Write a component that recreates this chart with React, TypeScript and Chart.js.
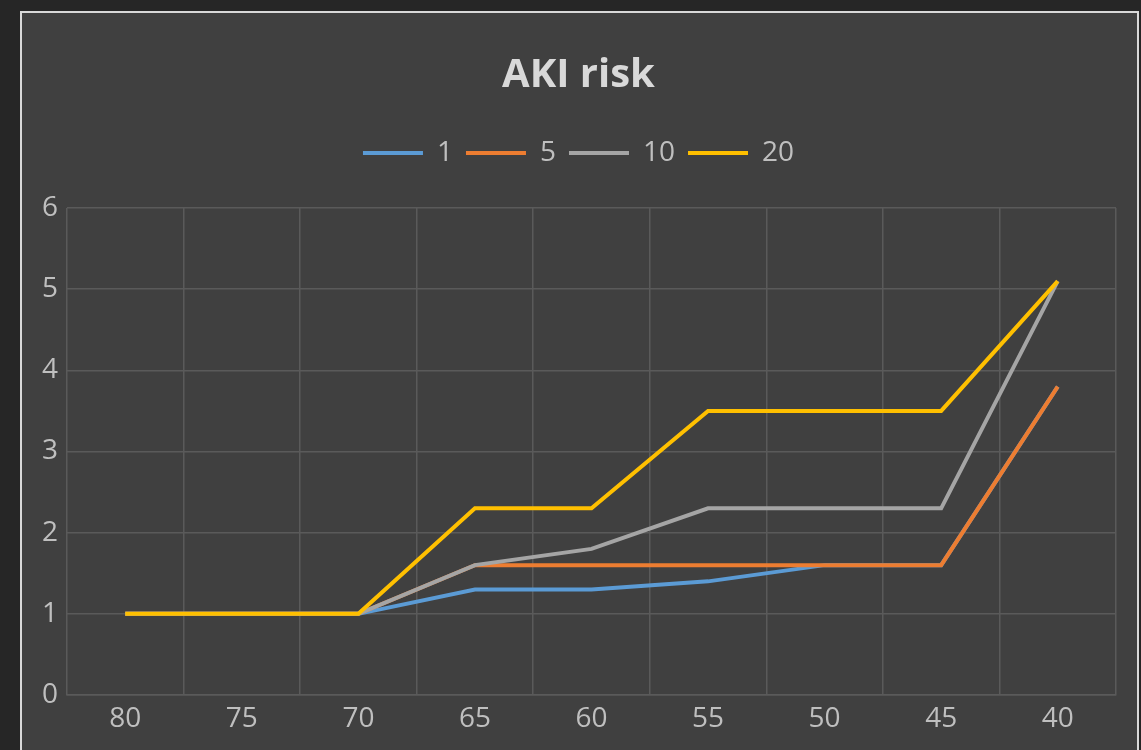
import React, { useEffect, useRef } from "react";
import { Chart, registerables } from "chart.js";

Chart.register(...registerables);

const CATEGORIES = ["80", "75", "70", "65", "60", "55", "50", "45", "40"];
const SERIES_NAMES = ["1", "5", "10", "20"];
const SERIES_1 = [1, 1, 1, 1.3, 1.3, 1.4, 1.6, 1.6, 3.8];
const SERIES_5 = [1, 1, 1, 1.6, 1.6, 1.6, 1.6, 1.6, 3.8];
const SERIES_10 = [1, 1, 1, 1.6, 1.8, 2.3, 2.3, 2.3, 5.1];
const SERIES_20 = [1, 1, 1, 2.3, 2.3, 3.5, 3.5, 3.5, 5.1];
const COLORS = ["#5B9BD5", "#ED7D31", "#A5A5A5", "#FFC000"];
const Y_TICKS = [0, 1, 2, 3, 4, 5, 6];

const FONT = "'Open Sans', 'Noto Sans', sans-serif";

export default function App() {
  const ref = useRef<HTMLCanvasElement | null>(null);

  useEffect(() => {
    if (!ref.current) return;
    const seriesData = [SERIES_1, SERIES_5, SERIES_10, SERIES_20];
    const legendGap = {
      id: "legendGap",
      beforeLayout(chart: any) {
        const lg = chart.legend;
        if (lg && !lg.__patched) {
          const orig = lg.fit.bind(lg);
          lg.fit = function () {
            orig();
            this.height += 31;
          };
          lg.__patched = true;
        }
      },
    };
    const chart = new Chart(ref.current, {
      type: "line",
      data: {
        labels: CATEGORIES,
        datasets: seriesData.map((d, i) => ({
          label: SERIES_NAMES[i],
          data: d,
          borderColor: COLORS[i],
          backgroundColor: COLORS[i],
          borderWidth: 4,
          pointRadius: 0,
          tension: 0,
          fill: false,
          order: seriesData.length - i,
        })),
      },
      options: {
        responsive: false,
        animation: false,
        devicePixelRatio: 1,
        layout: { padding: { left: 41, right: 25, top: 0, bottom: 0 } },
        plugins: {
          tooltip: { enabled: false },
          title: {
            display: true,
            text: "AKI risk",
            color: "#D9D9D9",
            font: { family: FONT, size: 40, weight: "bold", lineHeight: 1.2 },
            padding: { top: 52, bottom: 26 },
          },
          legend: {
            display: true,
            position: "top",
            labels: {
              color: "#BFBFBF",
              font: { family: FONT, size: 28 },
              boxWidth: 60,
              boxHeight: 4,
              padding: 13,
              generateLabels(chart: any) {
                const items = Chart.defaults.plugins.legend.labels.generateLabels(chart);
                items.sort((a: any, b: any) => a.datasetIndex - b.datasetIndex);
                return items.map((it: any) => ({
                  ...it,
                  lineWidth: 0,
                  fillStyle: COLORS[it.datasetIndex],
                  strokeStyle: COLORS[it.datasetIndex],
                }));
              },
            },
          },
        },
        scales: {
          x: {
            offset: true,
            grid: { color: "#5A5A5A", lineWidth: 1.5, offset: true, drawTicks: false },
            border: { color: "#5A5A5A", width: 1.5 },
            ticks: { color: "#BFBFBF", font: { family: FONT, size: 28 }, padding: 7, maxRotation: 0 },
            afterFit(scale: any) {
              scale.height = 55;
            },
          },
          y: {
            min: 0,
            max: 6,
            afterBuildTicks(scale: any) {
              scale.ticks = Y_TICKS.map((v) => ({ value: v }));
            },
            grid: { color: "#5A5A5A", lineWidth: 1.5, drawTicks: false },
            border: { display: false },
            ticks: { color: "#BFBFBF", font: { family: FONT, size: 28 }, padding: 9 },
            afterFit(scale: any) {
              scale.width = 26;
            },
          },
        },
      },
      plugins: [legendGap],
    });
    return () => chart.destroy();
  }, []);

  return (
    <div style={{ position: "fixed", left: 0, top: 0, width: 1141, height: 750, background: "#262626", overflow: "hidden" }}>
      <div
        style={{
          position: "absolute",
          left: 20,
          top: 11,
          width: 1119,
          height: 780,
          background: "#404040",
          border: "2px solid #D9D9D9",
          boxSizing: "border-box",
        }}
      />
      <canvas ref={ref} width={1141} height={750} style={{ position: "absolute", left: 0, top: 0, width: 1141, height: 750 }} />
    </div>
  );
}
